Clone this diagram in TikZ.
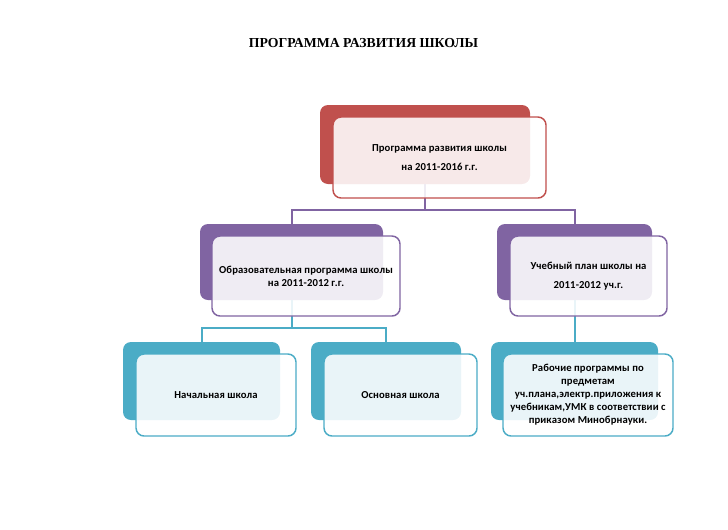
\documentclass[tikz,border=0pt]{standalone}
\usepackage{fontspec}
\setmainfont[LetterSpace=1]{Carlito}
\newfontfamily\titlefont{Liberation Serif}
\definecolor{schred}{HTML}{C0504D}
\definecolor{schpurple}{HTML}{8064A2}
\definecolor{schteal}{HTML}{4BACC6}
\tikzset{
  back/.style = {rectangle, rounded corners=6pt, inner sep=0pt, fill=#1},
  front/.style = {rectangle, rounded corners=6pt, inner sep=0pt, draw=#1,
    line width=1.1pt, fill=white, fill opacity=0.88, text opacity=1,
    align=center, font=\bfseries\fontsize{8}{9.75}\selectfont},
  wh/.style 2 args = {minimum width=#1*0.75pt, minimum height=#2*0.75pt},
  link/.style = {draw=#1, line width=1.5pt}
}

\begin{document}
\begin{tikzpicture}[x=0.75pt, y=-0.75pt]
\useasboundingbox (0,0) rectangle (728,529);
\node (title) at (363.5,43) {\titlefont\bfseries\fontsize{10.3}{12}\selectfont ПРОГРАММА РАЗВИТИЯ ШКОЛЫ};
% back boxes
\node [back=schred, wh={210}{79}] (prog) at (425,144.5) {};
\node [back=schpurple, wh={183}{76}] (edu) at (291.5,262) {};
\node [back=schpurple, wh={155}{76}] (plan) at (574.5,262) {};
\node [back=schteal, wh={157}{78}] (prim) at (201.5,381) {};
\node [back=schteal, wh={150}{78}] (basic) at (386,381) {};
\node [back=schteal, wh={167}{78}] (work) at (574.5,381) {};
% connectors
\draw [link=schpurple] (prog.south) -- ++(0,26) coordinate (progbar) -| (edu.north)
  (progbar) -| (plan.north);
\draw [link=schteal] (edu.south) -- ++(0,28) coordinate (edubar) -| (prim.north)
  (edubar) -| (basic.north);
\draw [link=schteal] (plan.south) -- (work.north);
% front boxes
\node [front=schred, wh={213}{81}] (progtext) at (439.5,157.5)
  {Программа развития школы\\[4pt]на 2011-2016 г.г.};
\node [front=schpurple, wh={188}{80}] (edutext) at (306,276)
  {Образовательная программа школы\\на 2011-2012 г.г.};
\node [front=schpurple, wh={157}{80}] (plantext) at (588.5,276)
  {Учебный план школы на\\[4pt]2011-2012 уч.г.};
\node [front=schteal, wh={160}{82}] (primtext) at (216,395) {Начальная школа};
\node [front=schteal, wh={153}{82}] (basictext) at (400.5,395) {Основная школа};
\node [front=schteal, wh={170}{82}] (worktext) at (588,395)
  {Рабочие программы по\\предметам\\уч.плана,электр.приложения к\\учебникам,УМК в соответствии с\\приказом Минобрнауки.};
\end{tikzpicture}
\end{document}
